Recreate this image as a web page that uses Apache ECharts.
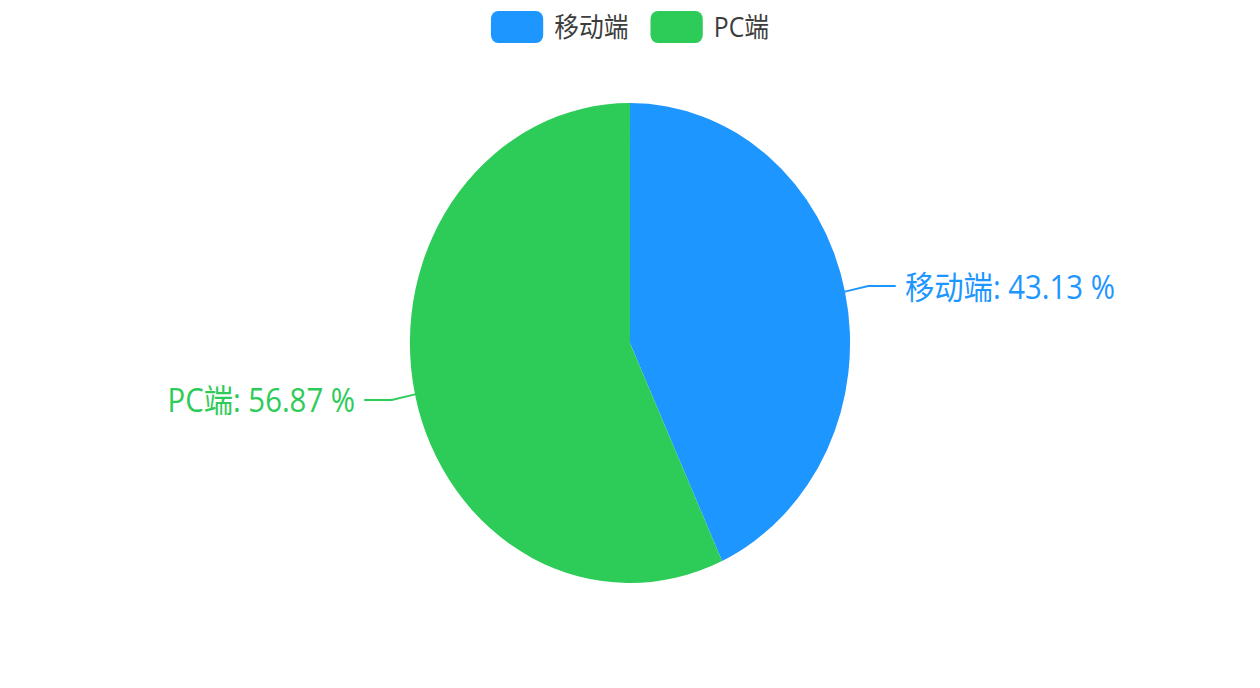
<!DOCTYPE html>
<html lang="zh-CN">
<head>
    <meta charset="UTF-8">
    <title>终端分布</title>
    <script src="https://cdn.jsdelivr.net/npm/echarts@6/dist/echarts.min.js"></script>
    <style>
        html, body { margin: 0; padding: 0; background: #fff; overflow: hidden; }
        /* 原图横向略有压缩，这里按比例还原 */
        #main { width: 1374px; height: 688px; transform: scaleX(0.917); transform-origin: 0 0; }
    </style>
</head>
<body>
<div id="main"></div>
<script>
    // 数据
    var categories = ['移动端', 'PC端'];
    var shares = [43.13, 56.87];
    var colors = ['#1E96FF', '#2DCB57'];

    var myChart = echarts.init(document.getElementById('main'), null, {renderer: 'svg'});

    var pieData = categories.map(function (name, i) {
        return {
            name: name,
            value: shares[i],
            itemStyle: {color: colors[i]},
            label: {color: colors[i]}
        };
    });

    var option = {
        animation: false,
        textStyle: {fontFamily: '"Open Sans", "Noto Sans CJK SC", sans-serif'},
        legend: {
            data: categories,
            top: 6,
            left: 'center',
            itemWidth: 57,
            itemHeight: 32,
            itemGap: 24,
            icon: 'roundRect',
            textStyle: {fontSize: 27, color: '#3d3d3d', padding: [0, 0, 0, 7]}
        },
        series: [
            {
                name: '终端',
                type: 'pie',
                center: ['50%', 343],
                radius: 240,
                startAngle: 90,
                percentPrecision: 2,
                label: {
                    formatter: '{b}: {d} %',
                    fontSize: 32,
                    distanceToLabelLine: 10
                },
                labelLine: {
                    length: 26,
                    length2: 30,
                    lineStyle: {width: 2}
                },
                data: pieData
            }
        ]
    };
    myChart.setOption(option);
</script>
</body>
</html>
